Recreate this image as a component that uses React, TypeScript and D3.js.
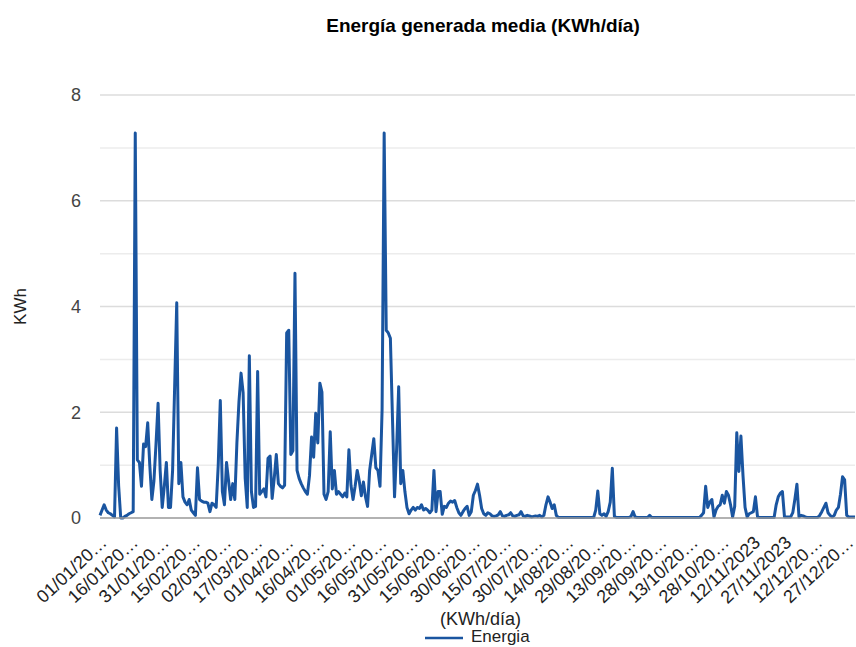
import React from "react";
import * as d3 from "d3";

const chartTitle = "Energía generada media (KWh/día)";
const yAxisTitle = "KWh";
const xAxisTitle = "(KWh/día)";
const seriesName = "Energia";
const yearStart = new Date(2023, 0, 1);
const yearEnd = new Date(2023, 11, 31);
const yMajorTicks = [0, 2, 4, 6, 8];
const yMinorTicks = [1, 3, 5, 7];
const xTickLabels = [
  "01/01/20…", "16/01/20…", "31/01/20…", "15/02/20…", "02/03/20…", "17/03/20…",
  "01/04/20…", "16/04/20…", "01/05/20…", "16/05/20…", "31/05/20…", "15/06/20…",
  "30/06/20…", "15/07/20…", "30/07/20…", "14/08/20…", "29/08/20…", "13/09/20…",
  "28/09/20…", "13/10/20…", "28/10/20…", "12/11/2023", "27/11/2023", "12/12/20…",
  "27/12/20…",
];

// Daily values (KWh), month by month
const energiaEne = [0.05, 0.15, 0.25, 0.15, 0.1, 0.08, 0.05, 0.02, 1.7, 0.6, 0, 0, 0.03, 0.05, 0.08, 0.1,
  0.12, 7.28, 1.1, 1.05, 0.6, 1.4, 1.35, 1.8, 1.0, 0.35, 0.7, 1.4, 2.17, 0.9, 0.2];
const energiaFeb = [0.6, 1.05, 0.2, 0.2, 0.9, 2.5, 4.07, 0.65, 1.05, 0.4, 0.3, 0.25, 0.35, 0.15, 0.1, 0.05,
  0.95, 0.35, 0.32, 0.3, 0.3, 0.28, 0.12, 0.28, 0.25, 0.2, 1.0, 2.22];
const energiaMar = [0.5, 0.25, 1.05, 0.7, 0.35, 0.65, 0.35, 1.42, 2.2, 2.74, 2.37, 0.75, 0.2, 3.07, 0.5, 0.2,
  0.22, 2.77, 0.45, 0.5, 0.55, 0.4, 1.13, 1.17, 0.37, 0.75, 1.2, 0.65, 0.6, 0.57, 0.62];
const energiaAbr = [3.5, 3.55, 1.2, 1.27, 4.63, 0.9, 0.75, 0.65, 0.57, 0.5, 0.45, 0.8, 1.53, 1.15, 1.98, 1.42,
  2.55, 2.38, 0.45, 0.35, 0.5, 1.63, 0.55, 0.9, 0.45, 0.5, 0.45, 0.4, 0.47, 0.4];
const energiaMay = [1.29, 0.62, 0.35, 0.6, 0.9, 0.7, 0.42, 0.68, 0.4, 0.22, 0.9, 1.2, 1.5, 0.95, 0.9, 0.6,
  2.05, 7.28, 3.55, 3.5, 3.4, 1.9, 0.4, 1.3, 2.48, 0.65, 0.9, 0.5, 0.2, 0.08, 0.15];
const energiaJun = [0.2, 0.15, 0.2, 0.18, 0.25, 0.15, 0.18, 0.15, 0.1, 0.15, 0.9, 0.12, 0.5, 0.5, 0.07, 0.22,
  0.2, 0.28, 0.32, 0.3, 0.33, 0.2, 0.1, 0.05, 0.12, 0.18, 0.22, 0.05, 0.12, 0.43];
const energiaJul = [0.52, 0.64, 0.43, 0.18, 0.08, 0.05, 0.1, 0.08, 0.04, 0.03, 0.04, 0.06, 0.12, 0.04, 0.03,
  0.05, 0.06, 0.1, 0.04, 0.03, 0.05, 0.06, 0.12, 0.04, 0.03, 0.05, 0.04, 0.02, 0.03, 0.04, 0.03];
const energiaAgo = [0.05, 0.02, 0.05, 0.25, 0.4, 0.3, 0.18, 0.25, 0.05, 0.01, 0.01, 0.01, 0.01, 0.01, 0.01,
  0.01, 0.01, 0.01, 0.01, 0.01, 0.01, 0.01, 0.01, 0.01, 0.01, 0.01, 0.01, 0.15, 0.51, 0.08, 0.05];
const energiaSep = [0.08, 0.03, 0.12, 0.3, 0.94, 0.03, 0.01, 0.01, 0.01, 0.01, 0.01, 0.01, 0.01, 0.03, 0.12,
  0.02, 0.01, 0.01, 0.01, 0.01, 0.01, 0.01, 0.05, 0.01, 0.01, 0.01, 0.01, 0.01, 0.01, 0.01];
const energiaOct = [0.01, 0.01, 0.01, 0.01, 0.01, 0.01, 0.01, 0.01, 0.01, 0.01, 0.01, 0.01, 0.01, 0.01, 0.01,
  0.01, 0.01, 0.05, 0.1, 0.6, 0.2, 0.3, 0.35, 0.02, 0.15, 0.22, 0.25, 0.43, 0.28, 0.5, 0.43];
const energiaNov = [0.25, 0.02, 0.22, 1.61, 0.88, 1.55, 0.8, 0.2, 0.02, 0.08, 0.1, 0.12, 0.4, 0.02, 0.01,
  0.01, 0.01, 0.01, 0.01, 0.01, 0.01, 0.01, 0.25, 0.4, 0.47, 0.5, 0.02, 0.02, 0.02, 0.02];
const energiaDic = [0.1, 0.35, 0.64, 0.02, 0.05, 0.04, 0.02, 0.01, 0.01, 0.01, 0.01, 0.01, 0.01, 0.05, 0.12,
  0.2, 0.28, 0.1, 0.05, 0.02, 0.05, 0.15, 0.2, 0.45, 0.78, 0.72, 0.05, 0.02, 0.02, 0.02, 0.02];

const energia = [
  ...energiaEne, ...energiaFeb, ...energiaMar, ...energiaAbr, ...energiaMay, ...energiaJun,
  ...energiaJul, ...energiaAgo, ...energiaSep, ...energiaOct, ...energiaNov, ...energiaDic,
];

const W = 856;
const H = 647;
const plotLeft = 100;
const plotRight = 855;
const plotTop = 95;
const plotBottom = 518;
const FONT = "Arial, 'Liberation Sans', sans-serif";
const LINE_COLOR = "#1a55a0";

export default function App() {
  const data = energia.map((v, i) => ({ date: d3.timeDay.offset(yearStart, i), value: v }));
  const x = d3.scaleTime().domain([yearStart, yearEnd]).range([plotLeft, plotRight]);
  const y = d3.scaleLinear().domain([0, 8]).range([plotBottom, plotTop]);
  const line = d3
    .line<{ date: Date; value: number }>()
    .x((d) => x(d.date))
    .y((d) => y(d.value));
  const xTicks = xTickLabels.map((label, k) => ({ label, date: d3.timeDay.offset(yearStart, k * 15) }));

  return (
    <svg
      width={W}
      height={H}
      style={{ position: "absolute", left: 0, top: 0, background: "#fff" }}
      fontFamily={FONT}
    >
      <rect x={0} y={0} width={W} height={H} fill="#fff" />
      <text x={483} y={32} textAnchor="middle" fontSize={19} fontWeight="bold" fill="#000">
        {chartTitle}
      </text>
      {yMinorTicks.map((t) => (
        <line key={"mi" + t} x1={plotLeft} x2={plotRight} y1={y(t)} y2={y(t)} stroke="#ececec" strokeWidth={1.5} />
      ))}
      {yMajorTicks.filter((t) => t !== 0).map((t) => (
        <line key={"ma" + t} x1={plotLeft} x2={plotRight} y1={y(t)} y2={y(t)} stroke="#dcdcdc" strokeWidth={1.5} />
      ))}
      {yMajorTicks.map((t) => (
        <text key={"yl" + t} x={81} y={y(t)} dy="0.35em" textAnchor="end" fontSize={18} fill="#444">
          {t}
        </text>
      ))}
      <text
        transform={`translate(26, ${(plotTop + plotBottom) / 2}) rotate(-90)`}
        textAnchor="middle"
        fontSize={17}
        fill="#222"
      >
        {yAxisTitle}
      </text>
      <path d={line(data) || ""} fill="none" stroke={LINE_COLOR} strokeWidth={3} strokeLinejoin="round" />
      <line x1={plotLeft} x2={plotRight} y1={y(0)} y2={y(0)} stroke="#999" strokeWidth={1.5} />
      {xTicks.map((t) => (
        <text
          key={t.label + t.date.getTime()}
          transform={`translate(${x(t.date) + 8}, 544) rotate(-43)`}
          textAnchor="end"
          fontSize={18}
          fill="#222"
        >
          {t.label}
        </text>
      ))}
      <text x={480.5} y={625} textAnchor="middle" fontSize={18} fill="#222">
        {xAxisTitle}
      </text>
      <line x1={425} x2={463} y1={638} y2={638} stroke={LINE_COLOR} strokeWidth={2.7} />
      <text x={471} y={642} fontSize={17} fill="#222">
        {seriesName}
      </text>
    </svg>
  );
}
